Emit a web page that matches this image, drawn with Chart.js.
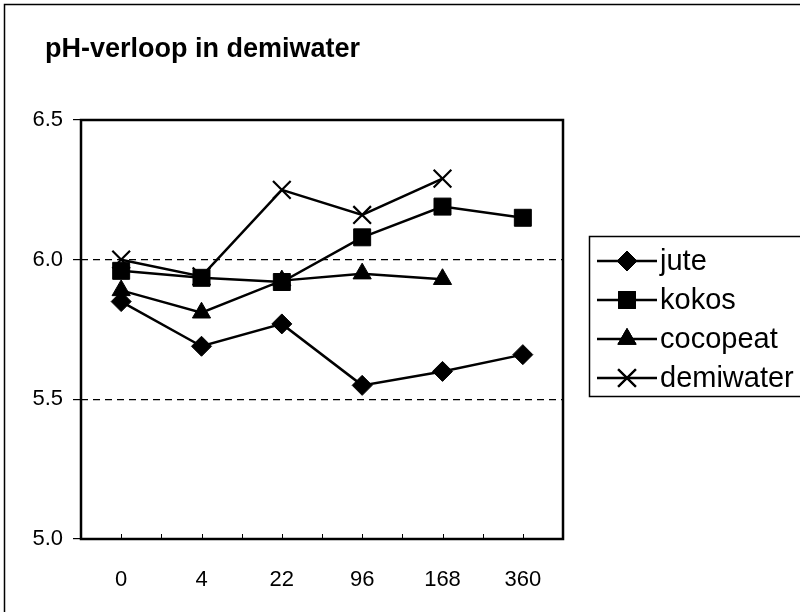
<!DOCTYPE html>
<html>
<head>
<meta charset="utf-8">
<script src="https://cdn.jsdelivr.net/npm/chart.js"></script>
<style>
  html, body { margin: 0; padding: 0; background: #fff; }
  #wrap { width: 800px; height: 612px; }
</style>
</head>
<body>
<div id="wrap"><canvas id="ph-canvas" width="800" height="612"></canvas></div>
<script>
(function () {
    'use strict';

    var hours = ['0', '4', '22', '96', '168', '360'];
    var jute = [5.85, 5.69, 5.77, 5.55, 5.60, 5.66];
    var kokos = [5.96, 5.935, 5.92, 6.08, 6.19, 6.15];
    var cocopeat = [5.89, 5.81, 5.925, 5.95, 5.93, null];
    var demiwater = [6.00, 5.94, 6.25, 6.16, 6.29, null];
    var yTicks = [5.0, 5.5, 6.0, 6.5];

    var FONT = "'Liberation Sans', Arial, Helvetica, sans-serif";

    function series(label, data, style, radius, order) {
        return {
            label: label,
            data: data,
            order: order,
            borderColor: '#000',
            backgroundColor: '#000',
            borderWidth: 2.5,
            pointStyle: style,
            pointRadius: radius,
            pointBorderWidth: style === 'crossRot' ? 2.2 : 1,
            pointBorderColor: '#000',
            pointBackgroundColor: '#000',
            tension: 0,
            spanGaps: false,
        };
    }

    function drawMarker(ctx, style, r, x, y) {
        ctx.save();
        ctx.fillStyle = '#000';
        ctx.strokeStyle = '#000';
        ctx.lineWidth = style === 'crossRot' ? 2.2 : 1;
        if (Chart.helpers && Chart.helpers.drawPoint) {
            Chart.helpers.drawPoint(ctx, { pointStyle: style, radius: r, borderWidth: ctx.lineWidth }, x, y);
            ctx.fill();
            ctx.stroke();
        }
        ctx.restore();
    }

    // frame, title, inner x ticks and legend box
    var decor = {
        id: 'decor',
        afterDraw: function (chart) {
            var ctx = chart.ctx;
            var a = chart.chartArea;
            var xs = chart.scales.x;

            ctx.save();
            ctx.strokeStyle = '#000';

            // outer border (top + left)
            ctx.lineWidth = 1.5;
            ctx.beginPath();
            ctx.moveTo(4.5, 612);
            ctx.lineTo(4.5, 4.5);
            ctx.lineTo(800, 4.5);
            ctx.stroke();

            // plot frame
            ctx.lineWidth = 2.5;
            ctx.strokeRect(a.left, a.top, a.right - a.left, a.bottom - a.top);

            // small inner ticks on x axis
            ctx.lineWidth = 1;
            var half = (xs.getPixelForValue(1) - xs.getPixelForValue(0)) / 2;
            for (var i = 0; i < hours.length; i++) {
                var cx = xs.getPixelForValue(i);
                [cx - half, cx].forEach(function (px) {
                    if (px <= a.left + 1) return;
                    ctx.beginPath();
                    ctx.moveTo(Math.round(px) + 0.5, a.bottom);
                    ctx.lineTo(Math.round(px) + 0.5, a.bottom - 5);
                    ctx.stroke();
                });
            }

            // title
            ctx.fillStyle = '#000';
            ctx.font = 'bold 27px ' + FONT;
            ctx.textBaseline = 'middle';
            ctx.textAlign = 'left';
            ctx.fillText('pH-verloop in demiwater', 45, 50);

            // legend
            ctx.lineWidth = 1.5;
            ctx.strokeRect(589.5, 236.5, 230, 160);
            var rowsY = [261, 300, 339, 378];
            ctx.font = '29px ' + FONT;
            chart.data.datasets.forEach(function (ds, k) {
                var y = rowsY[k];
                ctx.lineWidth = 2.5;
                ctx.beginPath();
                ctx.moveTo(597, y);
                ctx.lineTo(657, y);
                ctx.stroke();
                drawMarker(ctx, ds.pointStyle, ds.pointRadius, 627, y);
                ctx.fillStyle = '#000';
                ctx.textBaseline = 'middle';
                ctx.fillText(ds.label, 660, y + 1);
            });
            ctx.restore();
        },
    };

    new Chart(document.getElementById('ph-canvas'), {
        type: 'line',
        data: {
            labels: hours,
            datasets: [
                series('jute', jute, 'rectRot', 10, 3),
                series('kokos', kokos, 'rect', 12, 2),
                series('cocopeat', cocopeat, 'triangle', 10.5, 1),
                series('demiwater', demiwater, 'crossRot', 12.5, 0),
            ],
        },
        options: {
            responsive: false,
            animation: false,
            layout: { padding: { top: 120, right: 237, left: 0, bottom: 0 } },
            plugins: {
                legend: { display: false },
                title: { display: false },
                tooltip: { enabled: false },
            },
            scales: {
                x: {
                    offset: true,
                    grid: { display: false },
                    border: { display: false },
                    ticks: {
                        color: '#000',
                        font: { family: FONT, size: 22 },
                        padding: 20,
                        maxRotation: 0,
                    },
                    afterFit: function (s) { s.height = 612 - 539; },
                },
                y: {
                    min: 5.0,
                    max: 6.5,
                    afterBuildTicks: function (s) {
                        s.ticks = yTicks.map(function (v) { return { value: v }; });
                    },
                    ticks: {
                        color: '#000',
                        font: { family: FONT, size: 22 },
                        padding: 10,
                        callback: function (v) { return Number(v).toFixed(1); },
                    },
                    grid: {
                        color: function (ctx) {
                            var v = ctx.tick && ctx.tick.value;
                            return (v === 6.0 || v === 5.5) ? '#000' : 'rgba(0,0,0,0)';
                        },
                        lineWidth: 1.2,
                        tickColor: '#000',
                        tickLength: 8,
                        tickBorderDash: [],
                    },
                    border: { display: false, dash: [7, 5] },
                    afterFit: function (s) { s.width = 81; },
                },
            },
        },
        plugins: [decor],
    });
})();
</script>
</body>
</html>
